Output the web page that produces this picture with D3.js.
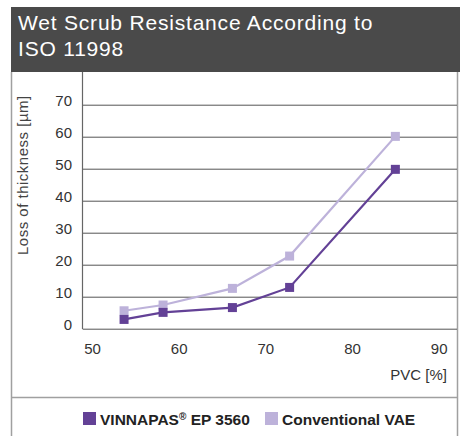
<!DOCTYPE html>
<html><head><meta charset="utf-8">
<script src="https://cdn.jsdelivr.net/npm/d3@7"></script>
<style>
html,body{margin:0;padding:0;background:#fff;}
svg{display:block;font-family:"Liberation Sans",Arial,Helvetica,sans-serif;}
</style></head>
<body>
<svg id="chart" width="462" height="436"></svg>
<script>
const titleLines = ["Wet Scrub Resistance According to", "ISO 11998"];
const pvc = [53.7, 58.2, 66.2, 72.8, 85.0];
const vinnapas = [2.9, 5.1, 6.6, 12.9, 49.8];
const conventional = [5.6, 7.4, 12.6, 22.7, 60.1];
const seriesNames = ["VINNAPAS\u00AE EP 3560", "Conventional VAE"];
const seriesColors = ["#634196", "#bdb2da"];
const xTicks = [50, 60, 70, 80, 90];
const yTicks = [0, 10, 20, 30, 40, 50, 60, 70];
const xTitle = "PVC [%]";
const yTitle = "Loss of thickness [\u00B5m]";

const svg = d3.select("#chart");

// header
svg.append("rect").attr("x", 11).attr("y", 7).attr("width", 449).attr("height", 65).attr("fill", "#4a4a4a");
svg.append("text").attr("x", 18).attr("y", 30).attr("fill", "#fff").attr("font-size", 21).attr("letter-spacing", 0.8)
  .selectAll("tspan").data(titleLines).join("tspan")
  .attr("x", 18).attr("dy", (d, i) => i === 0 ? 0 : 26).text(d => d);

// frame
const frame = svg.append("g").attr("stroke", "#a0a0a0").attr("stroke-width", 1.5).attr("fill", "none");
frame.append("line").attr("x1", 11.5).attr("x2", 11.5).attr("y1", 72).attr("y2", 436);
frame.append("line").attr("x1", 457.5).attr("x2", 457.5).attr("y1", 72).attr("y2", 436);
frame.append("line").attr("x1", 11).attr("x2", 458).attr("y1", 397.5).attr("y2", 397.5);

const x = d3.scaleLinear().domain([50, 90]).range([92, 438.7]);
const y = d3.scaleLinear().domain([0, 70]).range([328.7, 104.7]);
const plotLeft = 83, plotRight = 457;

// gridlines
const gy = svg.append("g").attr("transform", `translate(${plotLeft},0)`)
  .call(d3.axisLeft(y).tickValues(yTicks).tickSize(-(plotRight - plotLeft)).tickFormat(d => d).tickPadding(11));
gy.select(".domain").remove();
gy.selectAll(".tick line").attr("stroke", "#555").attr("stroke-width", 1);
gy.selectAll(".tick text").attr("font-size", 15).attr("fill", "#333").attr("dy", "0.05em")
  .attr("font-family", "Liberation Sans, Arial, sans-serif");

// left vertical axis line
svg.append("line").attr("x1", plotLeft - 0.5).attr("x2", plotLeft - 0.5).attr("y1", 72).attr("y2", y(0) + 0.5)
  .attr("stroke", "#666").attr("stroke-width", 1.2);

// x axis labels
const gx = svg.append("g").attr("transform", `translate(0,${y(0)})`)
  .call(d3.axisBottom(x).tickValues(xTicks).tickSize(0).tickPadding(15));
gx.select(".domain").remove();
gx.selectAll(".tick text").attr("font-size", 15).attr("fill", "#333").attr("font-family", "Liberation Sans, Arial, sans-serif");

svg.append("text").attr("x", 447).attr("y", 380).attr("text-anchor", "end").attr("font-size", 15).attr("fill", "#333").text(xTitle);
svg.append("text").attr("transform", "translate(28,255) rotate(-90)").attr("text-anchor", "start")
  .attr("font-size", 15).attr("letter-spacing", 0.5).attr("fill", "#444").text(yTitle);

// series
const data = [vinnapas, conventional];
const order = [1, 0];
order.forEach(si => {
  const vals = data[si];
  const pts = pvc.map((p, i) => [p, vals[i]]);
  svg.append("path").datum(pts)
    .attr("d", d3.line().x(d => x(d[0])).y(d => y(d[1])))
    .attr("fill", "none").attr("stroke", seriesColors[si]).attr("stroke-width", 2.2);
  svg.append("g").selectAll("rect").data(pts).join("rect")
    .attr("x", d => x(d[0]) - 4.5).attr("y", d => y(d[1]) - 4.5)
    .attr("width", 9).attr("height", 9).attr("fill", seriesColors[si]);
});

// legend
const legendX = [83, 265];
const lg = svg.append("g");
seriesNames.forEach((name, i) => {
  lg.append("rect").attr("x", legendX[i]).attr("y", 412).attr("width", 13).attr("height", 13).attr("fill", seriesColors[i]);
  const t = lg.append("text").attr("x", legendX[i] + 17).attr("y", 425).attr("font-size", 15.5).attr("font-weight", "bold").attr("fill", "#222");
  if (i === 0) {
    t.append("tspan").text("VINNAPAS");
    t.append("tspan").attr("font-size", 10).attr("dy", -5).text("\u00AE");
    t.append("tspan").attr("dy", 5).text(" EP 3560");
  } else {
    t.text(name);
  }
});
</script>
</body></html>
